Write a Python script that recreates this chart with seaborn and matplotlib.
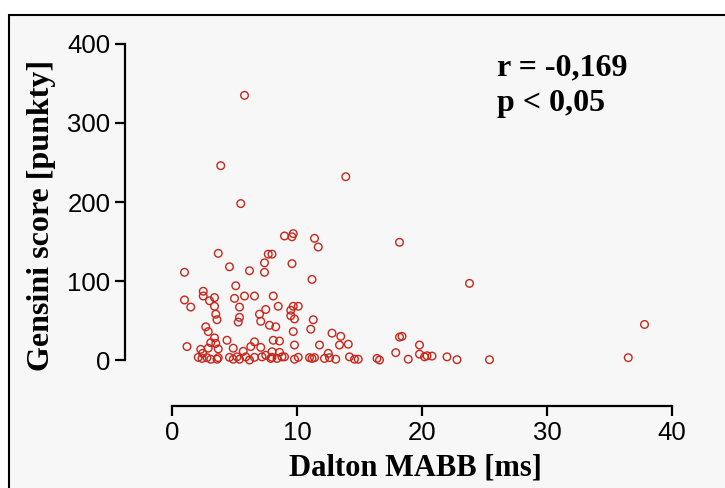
import matplotlib
matplotlib.use("Agg")
import matplotlib.pyplot as plt
from matplotlib.patches import Rectangle
import seaborn as sns
import pandas as pd

# Dalton MABB [ms] and Gensini score [points] for each patient
mabb = [
    5.8, 3.9, 13.9, 5.5, 9.7, 9.6, 9.0, 11.4, 18.2, 11.7, 3.7, 7.7, 8.0, 7.4, 9.6,
    4.6, 6.2, 7.4, 1.0, 11.2, 23.8, 5.1, 2.5, 2.5, 5.8, 6.6, 8.1, 3.4, 5.0, 1.0,
    3.0, 3.4, 8.5, 9.7, 10.1, 1.5, 5.4, 7.5, 9.5, 3.5, 7.0, 9.5, 5.4, 9.8, 11.3,
    3.6, 7.1, 5.3, 37.8, 7.8, 8.3, 2.7, 11.1, 9.7, 2.9, 12.8, 13.5, 18.2, 18.4, 3.4,
    8.1, 8.6, 4.4, 6.6, 3.1, 3.5, 14.1, 9.8, 11.8, 13.4, 19.8, 6.3, 1.2, 7.1, 2.9,
    3.7, 4.9, 2.3, 5.7, 8.0, 8.6, 17.9, 12.5, 19.8, 2.45,
    2.1, 2.4, 2.8, 3.1, 3.6, 3.7, 4.6, 4.9, 5.2, 5.4, 5.9, 6.2, 6.6, 7.2, 7.5,
    7.9, 8.0, 8.4, 8.8, 9.0, 9.8, 10.1, 11.0, 11.2, 11.4, 12.2, 12.6, 13.1, 14.2, 14.6,
    14.9, 16.4, 16.6, 18.9, 20.2, 20.4, 20.8, 22.0, 22.8, 25.4, 36.5,
]
gensini = [
    335, 246, 232, 198, 160, 156, 157, 154, 149, 143, 135, 134, 134, 123, 122,
    118, 113, 111, 111, 102, 97, 94, 87, 81, 81, 81, 81, 79, 78, 76,
    75, 68, 68, 68, 68, 67, 67, 64, 63, 58, 58, 56, 54, 52, 51,
    51, 49, 48, 45, 44, 42, 42, 39, 36, 36, 34, 30, 29, 30, 28,
    25, 24, 25, 23, 22, 21, 20, 19, 19, 19, 19, 17, 17, 16, 15,
    14, 15, 13.5, 11, 10.5, 9.7, 9.3, 8.4, 7.5, 8.4,
    3.4, 2, 3, 1, 1, 3, 3.4, 1, 4, 1, 4, 0, 3.4, 4, 6,
    2, 3.4, 2, 4, 4, 1, 3.4, 3, 2, 3, 2, 3, 1, 4, 1,
    1, 2, 0, 1, 4, 5.4, 5, 4, 0.4, 0.4, 3,
]

x_ticks = [0, 10, 20, 30, 40]
y_ticks = [0, 100, 200, 300, 400]
stats_lines = ["r = -0,169", "p < 0,05"]

df = pd.DataFrame({"Dalton MABB [ms]": mabb, "Gensini score [punkty]": gensini})

sns.set_style("ticks")
W, H = 725, 488
fig = plt.figure(figsize=(W / 100, H / 100), dpi=100)
fig.patch.set_facecolor("white")

# grey panel with a black frame behind the plot
panel = Rectangle((9 / W, -0.2), 1.2, 1.2 - 15 / H, transform=fig.transFigure,
                  facecolor="#f7f7f7", edgecolor="black", linewidth=1.5, zorder=-10)
fig.add_artist(panel)

ax = fig.add_axes([125 / W, 1 - 406 / H, (700 - 125) / W, (406 - 30) / H])
ax.set_facecolor("none")

red = "#c8261a"
sns.scatterplot(data=df, x="Dalton MABB [ms]", y="Gensini score [punkty]", ax=ax,
                s=30, marker="o", facecolor="none", edgecolor=red, linewidth=1.0)

ax.set_xlim(-3.76, 42.24)
ax.set_ylim(-58.2, 417.7)
ax.set_xticks(x_ticks)
ax.set_yticks(y_ticks)
ax.set_xticklabels([str(t) for t in x_ticks])
ax.set_yticklabels([str(t) for t in y_ticks])

for side in ("top", "right"):
    ax.spines[side].set_visible(False)
ax.spines["left"].set_bounds(0, 400)
ax.spines["bottom"].set_bounds(0, 40)
for side in ("left", "bottom"):
    ax.spines[side].set_linewidth(1.6)
    ax.spines[side].set_color("black")

ax.tick_params(axis="both", length=7, width=1.6, color="black", pad=3.5)
for lab in ax.get_xticklabels() + ax.get_yticklabels():
    lab.set_fontfamily("Liberation Sans")
    lab.set_fontsize(18.5)
    lab.set_color("black")

ax.set_xlabel("")
ax.set_ylabel("")
serif_bold = dict(family="Liberation Serif", weight="bold", color="black")
fig.text(415 / W, 1 - 468 / H, "Dalton MABB [ms]", ha="center", va="center",
         size=22, **serif_bold)
fig.text(42 / W, 1 - 215 / H, "Gensini score [punkty]", ha="center", va="center",
         rotation=90, size=23, **serif_bold)

fig.text(497 / W, 1 - 68 / H, stats_lines[0], ha="left", va="center", size=23, **serif_bold)
fig.text(497 / W, 1 - 103 / H, stats_lines[1], ha="left", va="center", size=23, **serif_bold)

fig.savefig("out.png", dpi=100, facecolor="white")
